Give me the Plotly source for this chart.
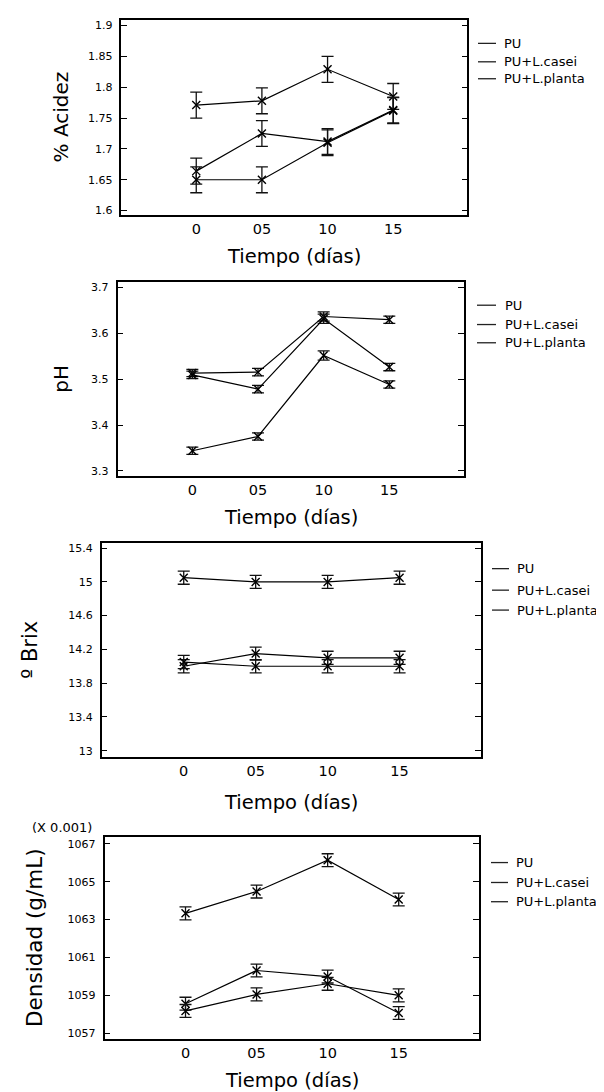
import plotly.graph_objects as go

W, H = 604, 1092

# ---------------- data ----------------
days = [0, 5, 10, 15]
day_labels = ["0", "05", "10", "15"]
series_names = ["PU", "PU+L.casei", "PU+L.planta"]

acidez_pu = [1.771, 1.778, 1.829, 1.785]
acidez_casei = [1.664, 1.725, 1.712, 1.763]
acidez_plant = [1.650, 1.650, 1.710, 1.762]
acidez_err = [0.021, 0.021, 0.021, 0.021]

ph_pu = [3.513, 3.515, 3.636, 3.629]
ph_casei = [3.509, 3.478, 3.631, 3.526]
ph_plant = [3.344, 3.375, 3.551, 3.488]
ph_err = [0.008, 0.008, 0.010, 0.008]

brix_pu = [15.05, 15.00, 15.00, 15.05]
brix_casei = [14.00, 14.15, 14.10, 14.10]
brix_plant = [14.05, 14.00, 14.00, 14.00]
brix_err = [0.078, 0.078, 0.078, 0.078]

dens_pu = [1063.33, 1064.48, 1066.13, 1064.06]
dens_casei = [1058.57, 1060.32, 1060.00, 1058.08]
dens_plant = [1058.19, 1059.06, 1059.62, 1059.01]
dens_err = [0.34, 0.34, 0.34, 0.34]

acidez_ticks = [1.6, 1.65, 1.7, 1.75, 1.8, 1.85, 1.9]
ph_ticks = [3.3, 3.4, 3.5, 3.6, 3.7]
brix_ticks = [13, 13.4, 13.8, 14.2, 14.6, 15, 15.4]
brix_ticklabels = ["13", "13.4", "13.8", "14.2", "14.6", "15", "15.4"]
dens_ticks = [1057, 1059, 1061, 1063, 1065, 1067]

# ---------------- panel layout (pixels) ----------------
panels = [
    dict(series=[acidez_pu, acidez_casei, acidez_plant], err=acidez_err,
         yr=[1.593, 1.909], ticks=acidez_ticks, ticktext=[str(t) for t in acidez_ticks],
         box=(113.4, 459.4, 11, 206.7), ytitle="% Acidez", ytitle_x=53, ytsize=20,
         xtitle_y=248, leg=(470, 488, 494, [34.5, 53, 70])),
    dict(series=[ph_pu, ph_casei, ph_plant], err=ph_err,
         yr=[3.290, 3.711], ticks=ph_ticks, ticktext=[str(t) for t in ph_ticks],
         box=(109.5, 455.5, 274, 468.3), ytitle="pH", ytitle_x=53, ytsize=20,
         xtitle_y=510.7, leg=(469, 488, 495, [297.3, 316.7, 335])),
    dict(series=[brix_pu, brix_casei, brix_plant], err=brix_err,
         yr=[12.93, 15.464], ticks=brix_ticks, ticktext=brix_ticklabels,
         box=(93.7, 472.9, 535.7, 750.3), ytitle="º Brix", ytitle_x=22, ytsize=21,
         xtitle_y=796.7, leg=(484, 501, 507, [561.7, 583.3, 603.3])),
    dict(series=[dens_pu, dens_casei, dens_plant], err=dens_err,
         yr=[1056.70, 1067.37], ticks=dens_ticks, ticktext=[str(t) for t in dens_ticks],
         box=(96.5, 471, 830.7, 1034), ytitle="Densidad (g/mL)", ytitle_x=27, ytsize=21.5,
         xtitle_y=1075.5, leg=(483, 500, 506, [856.7, 876.7, 896])),
]

FONT = "DejaVu Sans, Verdana, sans-serif"
fig = go.Figure()
annotations = []
shapes = []

def px_x(v):
    return v / W

def px_y(v):
    return 1 - v / H

for i, p in enumerate(panels):
    n = "" if i == 0 else str(i + 1)
    xa, ya = "x" + n, "y" + n
    l, r, t, b = p["box"]
    for vals in p["series"]:
        fig.add_trace(go.Scatter(
            x=days, y=vals, xaxis=xa, yaxis=ya, mode="lines+markers",
            line=dict(color="black", width=1.2),
            marker=dict(symbol="x-thin", size=8, color="black",
                        line=dict(width=1.4, color="black")),
            error_y=dict(type="data", array=p["err"], visible=True,
                         width=6, thickness=1.3, color="#111"),
            showlegend=False, hoverinfo="skip"))
    axis_common = dict(showline=True, linecolor="black", linewidth=1.5,
                       showgrid=False, zeroline=False)
    fig.layout["xaxis" + n] = dict(
        domain=[px_x(l), px_x(r)], range=[-5.7, 20.65], anchor=ya,
        tickvals=days, ticktext=day_labels, ticks="", mirror=True,
        tickfont=dict(size=14.5, color="black", family=FONT),
        ticklabelstandoff=0, **axis_common)
    fig.layout["yaxis" + n] = dict(
        domain=[px_y(b), px_y(t)], range=p["yr"], anchor=xa,
        tickvals=p["ticks"], ticktext=p["ticktext"], ticks="inside",
        ticklen=6, tickwidth=1.2, tickcolor="black", mirror="ticks",
        tickfont=dict(size=11, color="black", family=FONT),
        ticklabelstandoff=5, **axis_common)
    # axis titles
    annotations.append(dict(text="Tiempo (días)", xref="paper", yref="paper",
                            x=px_x((l + r) / 2), y=px_y(p["xtitle_y"]),
                            xanchor="center", yanchor="middle", showarrow=False,
                            font=dict(size=19.5, color="black", family=FONT)))
    annotations.append(dict(text=p["ytitle"], xref="paper", yref="paper",
                            x=px_x(p["ytitle_x"]), y=px_y((t + b) / 2), textangle=-90,
                            xanchor="center", yanchor="middle", showarrow=False,
                            font=dict(size=p["ytsize"], color="black", family=FONT)))
    # legend (line sample + label)
    lx0, lx1, tx, rows = p["leg"]
    for name, ry in zip(series_names, rows):
        shapes.append(dict(type="line", xref="paper", yref="paper",
                           x0=px_x(lx0), x1=px_x(lx1), y0=px_y(ry), y1=px_y(ry),
                           line=dict(color="#222", width=1.3)))
        annotations.append(dict(text=name, xref="paper", yref="paper",
                                x=px_x(tx), y=px_y(ry), xanchor="left", yanchor="middle",
                                showarrow=False,
                                font=dict(size=13, color="black", family=FONT)))

annotations.append(dict(text="(X 0.001)", xref="paper", yref="paper",
                        x=px_x(54), y=px_y(822), xanchor="center", yanchor="middle",
                        showarrow=False, font=dict(size=13, color="black", family=FONT)))

fig.update_layout(width=W, height=H, margin=dict(l=0, r=0, t=0, b=0),
                  paper_bgcolor="white", plot_bgcolor="white",
                  annotations=annotations, shapes=shapes, showlegend=False)

fig.write_html("out.html")
